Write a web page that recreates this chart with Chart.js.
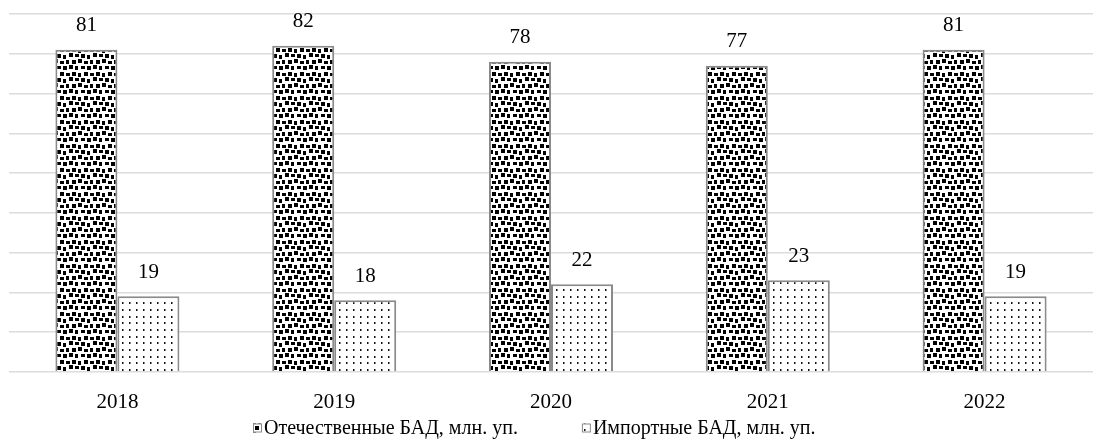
<!DOCTYPE html>
<html>
<head>
<meta charset="utf-8">
<script src="https://cdn.jsdelivr.net/npm/chart.js@4/dist/chart.umd.min.js"></script>
<style>
  html, body { margin: 0; padding: 0; background: #fff; }
  #wrap { width: 1093px; height: 442px; }
</style>
</head>
<body>
<div id="wrap"><canvas id="c" width="1093" height="442"></canvas></div>
<script>
// Years on the category axis
const years = ['2018', '2019', '2020', '2021', '2022'];
// Domestic dietary supplements, mln packs
const domestic = [81, 82, 78, 77, 81];
// Imported dietary supplements, mln packs
const imported = [19, 18, 22, 23, 19];
// Series names
const seriesNames = ['Отечественные БАД, млн. уп.', 'Импортные БАД, млн. уп.'];

const FONT = '"Liberation Serif", "Times New Roman", serif';
const FONT_SIZE = 21;
const LEGEND_FONT_SIZE = 20;

// "Large confetti" style fill: staggered black squares
function confettiPattern() {
  const N = 24;
  const t = document.createElement('canvas');
  t.width = N; t.height = N;
  const g = t.getContext('2d');
  g.fillStyle = '#fff';
  g.fillRect(0, 0, N, N);
  g.fillStyle = '#000';
  const sq = [
    [0,0,4,4],[6,1,3,4],[12,0,4,4],[18,1,4,3],
    [3,6,4,3],[9,6,4,4],[15,7,3,4],[21,5,4,4],
    [0,12,4,4],[6,11,4,4],[12,13,4,3],[18,12,3,4],
    [3,18,3,4],[9,18,4,3],[15,18,4,4],[21,17,4,4]
  ];
  sq.forEach(([x, y, w, h]) => {
    for (let dx = -N; dx <= N; dx += N) {
      for (let dy = -N; dy <= N; dy += N) {
        g.fillRect(x + dx, y + dy, w, h);
      }
    }
  });
  return g.createPattern(t, 'repeat');
}

// Sparse dotted fill
function dotPattern() {
  const t = document.createElement('canvas');
  t.width = 7; t.height = 20;
  const g = t.getContext('2d');
  g.fillStyle = '#fff';
  g.fillRect(0, 0, 7, 20);
  g.fillStyle = '#111';
  [2, 9, 16].forEach(y => g.fillRect(3, y, 1, 2));
  g.fillStyle = '#888';
  [2, 9, 16].forEach(y => g.fillRect(4, y, 1, 2));
  return g.createPattern(t, 'repeat');
}

const fills = [confettiPattern(), dotPattern()];
const BORDER = '#8a8a8a';

// Value labels above each bar
const valueLabels = {
  id: 'valueLabels',
  afterDatasetsDraw(chart) {
    const ctx = chart.ctx;
    ctx.save();
    ctx.font = FONT_SIZE + 'px ' + FONT;
    ctx.fillStyle = '#000';
    ctx.textAlign = 'center';
    ctx.textBaseline = 'middle';
    chart.data.datasets.forEach((ds, di) => {
      const meta = chart.getDatasetMeta(di);
      meta.data.forEach((bar, i) => {
        ctx.fillText(String(ds.data[i]), bar.x, bar.y - 24);
      });
    });
    ctx.restore();
  }
};

// Legend drawn under the axis labels
const bottomLegend = {
  id: 'bottomLegend',
  afterDraw(chart) {
    const ctx = chart.ctx;
    ctx.save();
    ctx.font = LEGEND_FONT_SIZE + 'px ' + FONT;
    const box = 9, gapBox = 2, gapItem = 64;
    const widths = seriesNames.map(n => ctx.measureText(n).width);
    const total = widths.reduce((a, w) => a + box + gapBox + w, 0) + gapItem * (seriesNames.length - 1);
    const cx = 534;
    let x = Math.round(cx - total / 2);
    const y = 428;
    ctx.textBaseline = 'middle';
    ctx.textAlign = 'left';
    seriesNames.forEach((n, i) => {
      ctx.fillStyle = fills[i];
      ctx.fillRect(x, y - box / 2, box, box);
      ctx.strokeStyle = BORDER;
      ctx.lineWidth = 1;
      ctx.strokeRect(x + 0.5, y - box / 2 + 0.5, box - 1, box - 1);
      ctx.fillStyle = '#000';
      ctx.fillText(n, x + box + gapBox, y + 1);
      x += box + gapBox + widths[i] + gapItem;
    });
    ctx.restore();
  }
};

new Chart(document.getElementById('c'), {
  type: 'bar',
  data: {
    labels: years,
    datasets: [
      { label: seriesNames[0], data: domestic, backgroundColor: fills[0], borderColor: BORDER, borderWidth: 2 },
      { label: seriesNames[1], data: imported, backgroundColor: fills[1], borderColor: BORDER, borderWidth: 2 }
    ]
  },
  options: {
    responsive: false,
    animation: false,
    layout: { padding: { left: 9, right: 0, top: 14, bottom: 9 } },
    datasets: { bar: { categoryPercentage: 0.572, barPercentage: 1 } },
    plugins: { legend: { display: false }, tooltip: { enabled: false } },
    scales: {
      x: {
        grid: { display: false, drawTicks: false },
        border: { display: false },
        ticks: { color: '#000', padding: 18, font: { family: FONT, size: FONT_SIZE } }
      },
      y: {
        min: 0, max: 90,
        ticks: { display: false, stepSize: 10 },
        grid: { color: '#dcdcdc', lineWidth: 1.5, drawTicks: false },
        border: { display: false }
      }
    }
  },
  plugins: [valueLabels, bottomLegend]
});
</script>
</body>
</html>
